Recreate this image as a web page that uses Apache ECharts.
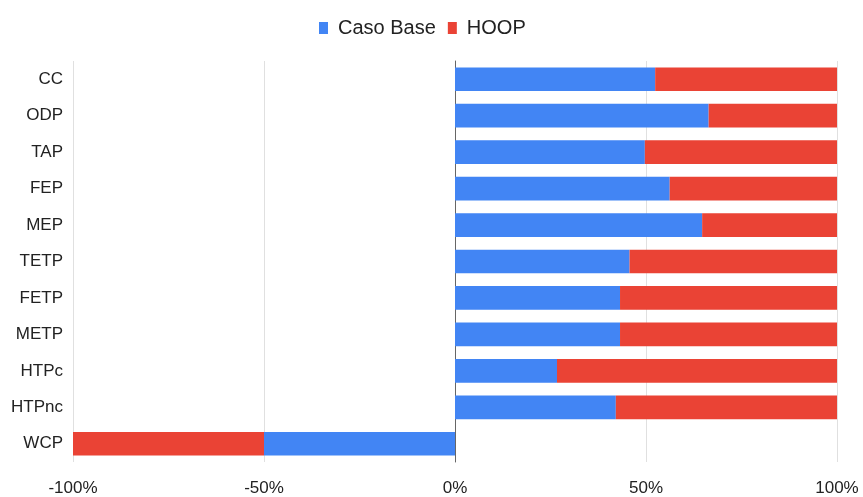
<!DOCTYPE html>
<html>
<head>
<meta charset="utf-8">
<script src="https://cdn.jsdelivr.net/npm/echarts@6/dist/echarts.min.js"></script>
<style>
  html, body { margin: 0; padding: 0; background: #fff; }
  #chart { width: 863px; height: 497px; }
</style>
</head>
<body>
<div id="chart"></div>
<script>
// categories, top to bottom
const categories = ['CC', 'ODP', 'TAP', 'FEP', 'MEP', 'TETP', 'FETP', 'METP', 'HTPc', 'HTPnc', 'WCP'];
// percentages
const casoBase = [52.4, 66.4, 49.7, 56.2, 64.7, 45.7, 43.2, 43.2, 26.7, 42.1, -50];
const hoop = [47.6, 33.6, 50.3, 43.8, 35.3, 54.3, 56.8, 56.8, 73.3, 57.9, -50];
const xTicks = [-100, -50, 0, 50, 100];

const font = '"Liberation Sans", Arial, sans-serif';

const chart = echarts.init(document.getElementById('chart'));
chart.setOption({
  animation: false,
  color: ['#4285F4', '#EA4335'],
  textStyle: { fontFamily: font },
  legend: {
    left: 314,
    top: 13,
    itemWidth: 9,
    itemHeight: 12,
    itemGap: 12,
    icon: 'rect',
    textStyle: { fontSize: 20, color: '#222', fontFamily: font, padding: [0, 0, 0, 5] },
    data: ['Caso Base', 'HOOP']
  },
  grid: { left: 73, right: 26, top: 61, bottom: 32 },
  xAxis: {
    type: 'value',
    min: xTicks[0],
    max: xTicks[xTicks.length - 1],
    interval: 50,
    axisLine: { show: false },
    axisTick: { show: false },
    axisLabel: {
      formatter: v => v + '%',
      fontSize: 17,
      color: '#222',
      margin: 18,
      fontFamily: font
    },
    splitLine: { lineStyle: { color: '#e0e0e0', width: 1 } }
  },
  yAxis: {
    type: 'category',
    inverse: true,
    data: categories,
    axisLine: { show: true, onZero: true, lineStyle: { color: '#666', width: 1 } },
    axisTick: { show: false },
    axisLabel: { fontSize: 17, color: '#222', margin: 10, fontFamily: font }
  },
  series: [
    {
      name: 'Caso Base',
      type: 'bar',
      stack: 'total',
      barWidth: '65%',
      data: casoBase
    },
    {
      name: 'HOOP',
      type: 'bar',
      stack: 'total',
      barWidth: '65%',
      data: hoop
    }
  ]
});
</script>
</body>
</html>
